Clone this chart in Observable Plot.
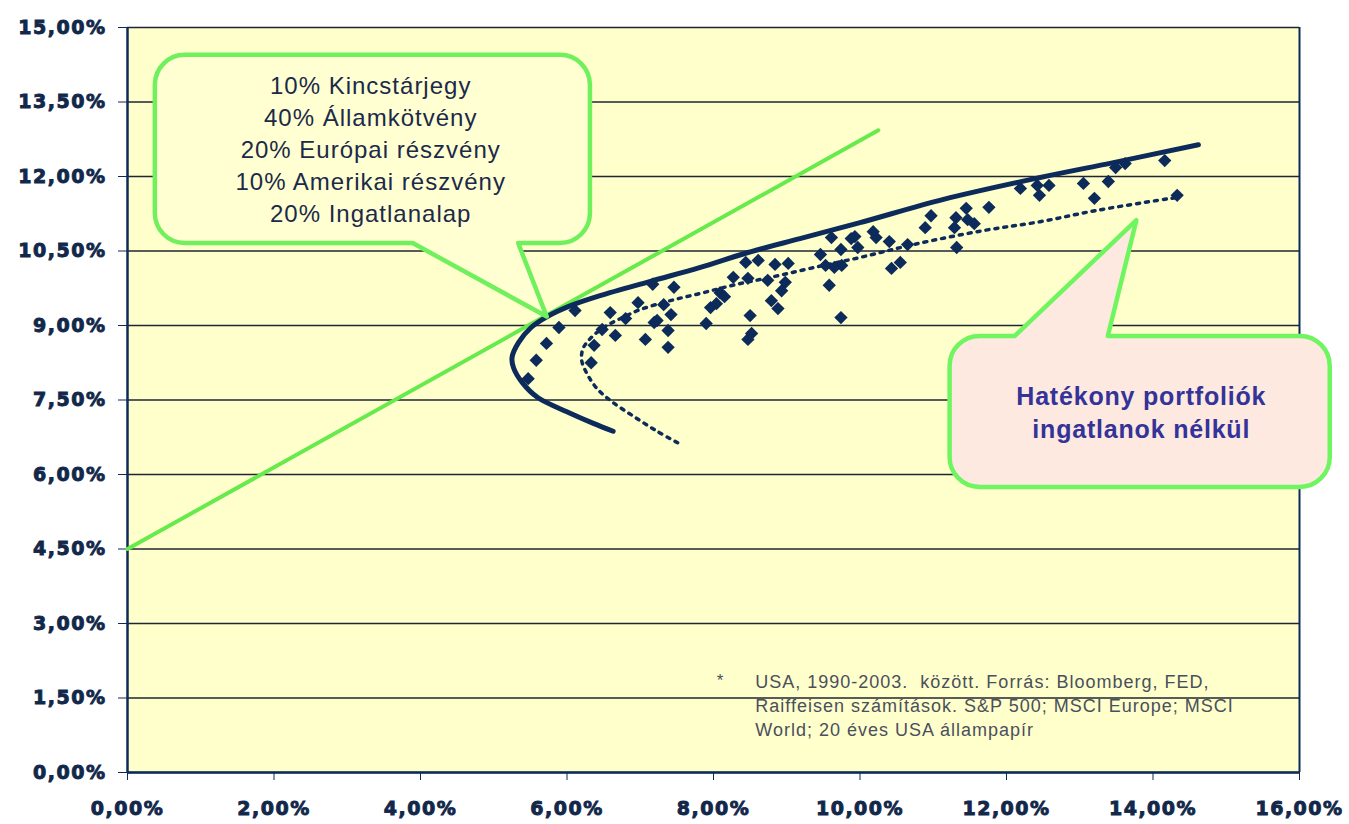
<!DOCTYPE html>
<html>
<head>
<meta charset="utf-8">
<script src="https://cdn.jsdelivr.net/npm/d3@7"></script>
<script src="https://cdn.jsdelivr.net/npm/@observablehq/plot@0.6"></script>
<style>
  html, body { margin: 0; padding: 0; background: #ffffff; }
  g[aria-label="y-axis tick label"] text, g[aria-label="x-axis tick label"] text {
    letter-spacing: 1.5px; stroke: #12284a; stroke-width: 0.9px; paint-order: stroke;
  }
  .callout1 text { letter-spacing: 1px; }
  .callout2 text { letter-spacing: 0.8px; }
  .note text { letter-spacing: 1px; }
</style>
</head>
<body>
<div id="chart"></div>
<script>
// ---- Data (percent units) ----
const xTicks = [0, 2, 4, 6, 8, 10, 12, 14, 16];
const yTicks = [0, 1.5, 3, 4.5, 6, 7.5, 9, 10.5, 12, 13.5, 15];

// Individual portfolios (risk, return)
const scatterX = [5.47, 5.58, 5.72, 5.89, 6.11, 6.33, 6.37, 6.48, 6.59, 6.66, 6.80, 6.97, 7.07, 7.17, 7.19, 7.23, 7.32, 7.38, 7.38, 7.42, 7.46,
  7.90, 7.96, 8.04, 8.09, 8.15, 8.27, 8.44, 8.47, 8.50, 8.52, 8.47, 8.61, 8.74, 8.79, 8.84, 8.88, 8.93, 8.98, 9.02,
  9.46, 9.53, 9.58, 9.61, 9.65, 9.74, 9.74, 9.75, 9.88, 9.93, 9.97, 10.18, 10.22, 10.40, 10.43, 10.55, 10.65, 10.89, 10.97,
  11.31, 11.32, 11.29, 11.45, 11.47, 11.56, 11.76, 12.19, 12.42, 12.45, 12.58, 13.05, 13.20, 13.39, 13.49, 13.62, 14.16, 14.33];
const scatterY = [7.93, 8.30, 8.64, 8.96, 9.30, 8.25, 8.60, 8.92, 9.26, 8.80, 9.14, 9.46, 8.72, 9.83, 9.06, 9.10, 9.42, 8.90, 8.56, 9.22, 9.77,
  9.04, 9.36, 9.44, 9.66, 9.58, 9.97, 10.27, 9.95, 9.20, 8.84, 8.72, 10.31, 9.91, 9.50, 10.23, 9.34, 9.70, 9.87, 10.25,
  10.43, 10.21, 9.81, 10.77, 10.17, 9.16, 10.53, 10.21, 10.75, 10.79, 10.57, 10.89, 10.77, 10.69, 10.15, 10.27, 10.63, 10.97, 11.21,
  11.17, 10.57, 10.97, 11.36, 11.13, 11.05, 11.38, 11.76, 11.82, 11.62, 11.82, 11.86, 11.56, 11.90, 12.18, 12.26, 12.32, 11.62];

// Efficient frontier with real estate (solid)
const frontX = [6.63, 6.36, 6.02, 5.60, 5.39, 5.27, 5.25, 5.34, 5.51, 5.73, 6.05, 6.45, 7.14, 7.82, 8.47, 9.18, 10.00, 11.14, 12.46, 13.46, 14.62];
const frontY = [6.87, 7.03, 7.25, 7.55, 7.85, 8.15, 8.36, 8.66, 8.96, 9.18, 9.40, 9.60, 9.89, 10.17, 10.47, 10.75, 11.07, 11.54, 11.98, 12.28, 12.64];

// Efficient frontier without real estate (dotted)
const noReX = [7.51, 7.23, 6.91, 6.61, 6.41, 6.28, 6.20, 6.22, 6.32, 6.50, 6.73, 7.00, 7.41, 7.86, 8.32, 8.78, 9.32, 10.00, 10.73, 11.68, 12.46, 13.24, 14.33];
const noReY = [6.64, 6.87, 7.17, 7.47, 7.73, 8.01, 8.30, 8.54, 8.74, 8.96, 9.14, 9.32, 9.50, 9.66, 9.83, 9.97, 10.15, 10.37, 10.63, 10.91, 11.09, 11.32, 11.58];

// Capital market line
const cmlX = [0, 10.25];
const cmlY = [4.5, 12.93];

const mixText = ["10% Kincstárjegy", "40% Államkötvény", "20% Európai részvény", "10% Amerikai részvény", "20% Ingatlanalap"];
const effText = ["Hatékony portfoliók", "ingatlanok nélkül"];
const noteText = ["USA, 1990-2003.  között. Forrás: Bloomberg, FED,", "Raiffeisen számítások. S&P 500; MSCI Europe; MSCI", "World; 20 éves USA állampapír"];

// ---- Layout (annotation geometry in data units) ----
const call1 = {L: 0.38, R: 6.32, T: 14.44, B: 10.65, a: 3.90, b: 5.34, tx: 5.73, ty: 9.17};
const call2 = {L: 11.23, R: 16.42, T: 8.78, B: 5.74, a: 12.12, b: 13.39, tx: 13.78, ty: 11.11};

const navy = "#0c2b5a";
const green = "#66ea4c";
const fmt = d => d.toFixed(2).replace(".", ",") + "%";

const scatter = scatterX.map((x, i) => ({x, y: scatterY[i]}));
const front = frontX.map((x, i) => ({x, y: frontY[i]}));
const noRe = noReX.map((x, i) => ({x, y: noReY[i]}));
const cml = cmlX.map((x, i) => ({x, y: cmlY[i]}));

function callout(g, pointerBottom, fill, stroke, cls) {
  return (index, scales) => {
    const X = scales.x, Y = scales.y;
    const L = X(g.L), R = X(g.R), T = Y(g.T), B = Y(g.B);
    const a = X(g.a), b = X(g.b), tx = X(g.tx), ty = Y(g.ty);
    const r = 30;
    let d;
    if (pointerBottom) {
      d = `M${L + r},${T}H${R - r}A${r},${r} 0 0 1 ${R},${T + r}V${B - r}A${r},${r} 0 0 1 ${R - r},${B}H${b}L${tx},${ty}L${a},${B}H${L + r}A${r},${r} 0 0 1 ${L},${B - r}V${T + r}A${r},${r} 0 0 1 ${L + r},${T}Z`;
    } else {
      d = `M${L + r},${T}H${a}L${tx},${ty}L${b},${T}H${R - r}A${r},${r} 0 0 1 ${R},${T + r}V${B - r}A${r},${r} 0 0 1 ${R - r},${B}H${L + r}A${r},${r} 0 0 1 ${L},${B - r}V${T + r}A${r},${r} 0 0 1 ${L + r},${T}Z`;
    }
    const el = d3.create("svg:g").attr("class", cls);
    el.append("path").attr("d", d).attr("fill", fill).attr("stroke", stroke)
      .attr("stroke-width", 4.5).attr("stroke-linejoin", "round");
    return el.node();
  };
}

const chart = Plot.plot({
  width: 1349,
  height: 824,
  marginLeft: 127,
  marginRight: 50,
  marginTop: 27,
  marginBottom: 52,
  style: {background: "#ffffff", fontFamily: "'DejaVu Sans', sans-serif"},
  x: {domain: [0, 16]},
  y: {domain: [0, 15]},
  marks: [
    Plot.frame({fill: "#ffffcc", stroke: null}),
    Plot.ruleY(yTicks, {stroke: "#1f2633", strokeWidth: 1.6}),
    Plot.ruleX([16], {stroke: navy, strokeWidth: 2}),
    Plot.ruleX([0], {stroke: navy, strokeWidth: 2.5}),
    Plot.ruleY([0], {stroke: navy, strokeWidth: 2.5}),
    Plot.axisY({ticks: yTicks, tickFormat: fmt, tickSize: 9, tickPadding: 12, label: null,
      fontSize: 19, fontWeight: "bold", fill: "#12284a", stroke: navy}),
    Plot.axisX({ticks: xTicks, tickFormat: fmt, tickSize: 8, tickPadding: 21, label: null,
      fontSize: 19, fontWeight: "bold", fill: "#12284a", stroke: navy}),
    Plot.line(cml, {x: "x", y: "y", stroke: green, strokeWidth: 4}),
    Plot.line(noRe, {x: "x", y: "y", stroke: navy, strokeWidth: 3.5, strokeDasharray: "3,6", curve: "catmull-rom"}),
    Plot.line(front, {x: "x", y: "y", stroke: navy, strokeWidth: 5, curve: "catmull-rom"}),
    Plot.dot(scatter, {x: "x", y: "y", symbol: "diamond2", r: 6, fill: navy, stroke: null}),
    callout(call1, true, "#ffffd2", "#6ff05c", "callout1"),
    callout(call2, false, "#fde9df", "#6ff560", "callout2"),
    Plot.text([mixText.join("\n")], {x: 3.32, y: 12.58, text: d => d, fontFamily: "'Liberation Sans', Arial, sans-serif",
      fontSize: 24, lineHeight: 1.34, fill: "#1b2a48", textAnchor: "middle", lineAnchor: "middle", className: "callout1"}),
    Plot.text([effText.join("\n")], {x: 13.84, y: 7.28, text: d => d, fontFamily: "'Liberation Sans', Arial, sans-serif",
      fontSize: 25, fontWeight: "bold", lineHeight: 1.32, fill: "#343399", textAnchor: "middle", lineAnchor: "middle", className: "callout2"}),
    Plot.text(["*"], {x: 8.09, y: 1.85, text: d => d, fontFamily: "'Liberation Sans', Arial, sans-serif", fontSize: 17, fill: "#4a4f5c"}),
    Plot.text([noteText.join("\n")], {x: 8.57, y: 2.04, text: d => d, fontFamily: "'Liberation Sans', Arial, sans-serif",
      fontSize: 18, lineHeight: 1.33, fill: "#4a4f5c", textAnchor: "start", lineAnchor: "top", className: "note"})
  ]
});
document.getElementById("chart").appendChild(chart);
</script>
</body>
</html>
